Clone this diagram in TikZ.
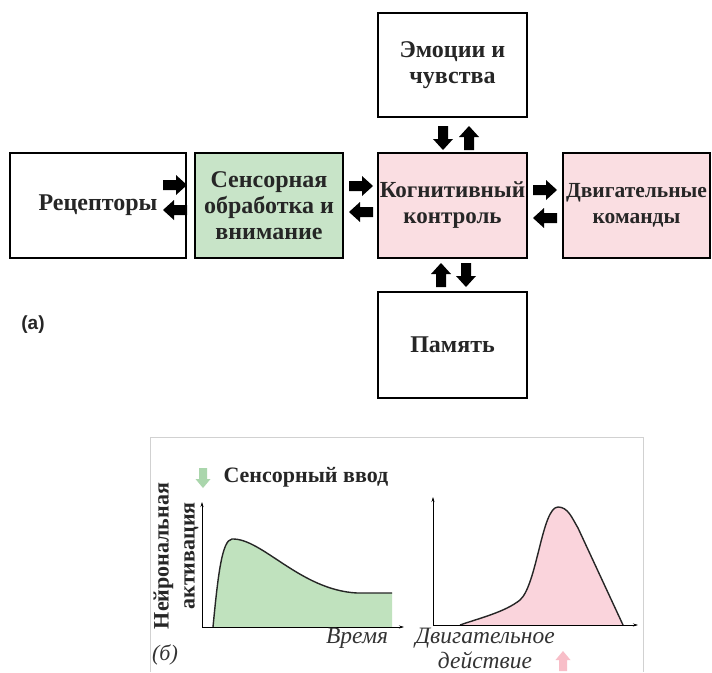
\documentclass[tikz,border=0pt]{standalone}
\usepackage{fontspec}
\setmainfont{Liberation Serif}
\setsansfont{Liberation Sans}
\usetikzlibrary{arrows.meta}
\definecolor{boxgreen}{RGB}{200,228,200}
\definecolor{boxpink}{RGB}{250,222,226}
\definecolor{plotgreen}{RGB}{192,226,190}
\definecolor{plotpink}{RGB}{250,212,220}
\definecolor{arrgreen}{RGB}{170,214,172}
\definecolor{arrpink}{RGB}{248,190,200}
\tikzset{
  box/.style={draw=black, line width=1.3pt, align=center, inner sep=0pt,
    font=\bfseries\fontsize{24}{26}\selectfont, text=black!85},
  fatarrow/.pic={\fill (-12,-5) -- (1,-5) -- (1,-10) -- (12,0) -- (1,10) -- (1,5) -- (-12,5) -- cycle;},
  thinarrow/.pic={\fill (-10,-4) -- (1,-4) -- (1,-7.5) -- (10,0) -- (1,7.5) -- (1,4) -- (-10,4) -- cycle;},
  axis/.style={line width=0.6pt, -{Stealth[length=5pt,width=3pt]}},
  curve/.style={line width=1.4pt, black!85},
  lbl/.style={font=\itshape\fontsize{23.5}{25}\selectfont, text=black!80, align=center},
}
\begin{document}
\begin{tikzpicture}[x=1pt,y=-1pt]
\useasboundingbox[fill=white] (0,0) rectangle (712,672);
% panel (a)
\node[box, minimum width=176, minimum height=105] (rec) at (98,205.5) {Рецепторы};
\node[box, fill=boxgreen, minimum width=148, minimum height=105] (sens) at (269,205.5) {Сенсорная\\обработка и\\внимание};
\node[box, fill=boxpink, minimum width=149, minimum height=105, font=\bfseries\fontsize{23}{26}\selectfont] (cog) at (452.5,205.5) {Когнитивный\\контроль};
\node[box, fill=boxpink, minimum width=147, minimum height=105, font=\bfseries\fontsize{21.5}{26}\selectfont] (dvig) at (636.5,205.5) {Двигательные\\команды};
\node[box, minimum width=149, minimum height=104] (emo) at (452.5,65) {Эмоции и\\чувства};
\node[box, minimum width=149, minimum height=106] (mem) at (452.5,345) {Память};
% fat arrows
\pic at (175,185) {fatarrow};
\pic[rotate=180] at (175,210) {fatarrow};
\pic at (361,186) {fatarrow};
\pic[rotate=180] at (361,212) {fatarrow};
\pic at (545,190) {fatarrow};
\pic[rotate=180] at (545,218) {fatarrow};
\pic[rotate=-90] at (443,138) {fatarrow};
\pic[rotate=90] at (469,138) {fatarrow};
\pic[rotate=90] at (441,275) {fatarrow};
\pic[rotate=-90] at (466,275) {fatarrow};
\node[font=\sffamily\bfseries\fontsize{19}{22}\selectfont, text=black!85] (la) at (33,325) {(a)};
% panel (b)
\draw[black!18, line width=1pt] (150,672) -- (150,437) -- (643,437) -- (643,672);
\fill[plotgreen] (213,627) .. controls (218,575) and (222,540) .. (232,539) .. controls (262,538) and (300,590) .. (357,593) -- (392,593) -- (392,627) -- cycle;
\draw[curve] (213,627) .. controls (218,575) and (222,540) .. (232,539) .. controls (262,538) and (300,590) .. (357,593) -- (392,593);
\coordinate (o1) at (202,627);
\coordinate (y1) at (202,502);
\coordinate (x1) at (404,627);
\draw[axis] (o1) -- (y1);
\draw[axis] (o1) -- (x1);
\fill[plotpink] (460,625) .. controls (480,618) and (505,612) .. (520,600) .. controls (537,585) and (542,507) .. (558,507) .. controls (568,507) and (572,518) .. (578,528) -- (623,625) -- cycle;
\draw[curve] (460,625) .. controls (480,618) and (505,612) .. (520,600) .. controls (537,585) and (542,507) .. (558,507) .. controls (568,507) and (572,518) .. (578,528) -- (623,625);
\coordinate (o2) at (433,625);
\coordinate (y2) at (433,497);
\coordinate (x2) at (638,625);
\draw[axis] (o2) -- (y2);
\draw[axis] (o2) -- (x2);
\node[anchor=west, font=\bfseries\fontsize{22}{24}\selectfont, text=black!85] (sv) at (220,477) {Сенсорный ввод};
\pic[rotate=-90, arrgreen] at (203,478) {thinarrow};
\node[rotate=90, align=center, font=\bfseries\fontsize{22}{26}\selectfont, text=black!85] (na) at (176,556) {Нейрональная\\активация};
\node[lbl] (vr) at (357,638) {Время};
\node[lbl] (da) at (485,648) {Двигательное\\действие};
\pic[rotate=90, arrpink] at (563,661) {thinarrow};
\node[lbl, font=\itshape\fontsize{22}{24}\selectfont] (lb) at (165,655) {(б)};
\end{tikzpicture}
\end{document}
